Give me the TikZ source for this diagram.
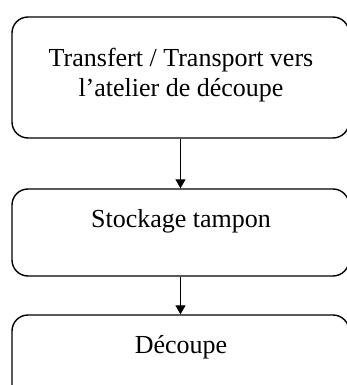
\documentclass[tikz,border=0pt]{standalone}
\usepackage{fontspec}
\setmainfont{Liberation Serif}
\usetikzlibrary{arrows.meta}
\begin{document}
\begin{tikzpicture}[x=1pt,y=-1pt,
  stepbox/.style={draw, line width=1.4pt, rounded corners=16pt,
    minimum width=337pt, inner sep=0pt},
  steptext/.style={font=\fontsize{26}{30}\selectfont, align=center,
    anchor=base, inner sep=0pt},
  flow/.style={-{Triangle[width=10pt,length=9pt]}, line width=1.2pt}]
\useasboundingbox (0,0) rectangle (347,385);
\clip (0,0) rectangle (347,385);
% process steps
\node[stepbox, minimum height=121pt] (b1) at (180.5,77.5) {};
\node[stepbox, minimum height=87pt] (b2) at (180.5,232.5) {};
\node[stepbox, minimum height=105pt] (b3) at (180.5,367.5) {};
% step labels (base anchor sits on the last line)
\node[steptext] (t1) at (181,97) {Transfert / Transport vers\\l’atelier de découpe};
\node[steptext] (t2) at (181,227) {Stockage tampon};
\node[steptext] (t3) at (181,353) {Découpe};
% flow between steps
\draw[flow] (b1.south) -- (b2.north);
\draw[flow] (b2.south) -- (b3.north);
\end{tikzpicture}
\end{document}
